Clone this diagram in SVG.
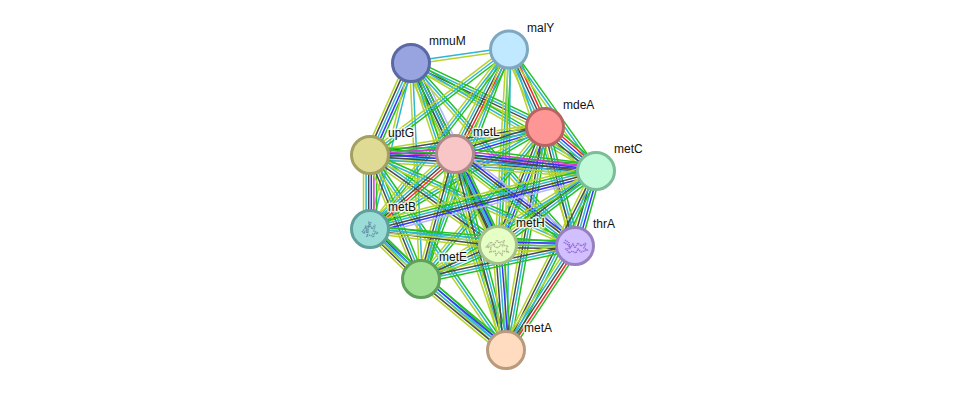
<svg xmlns="http://www.w3.org/2000/svg" width="975" height="395" viewBox="0 0 975 395">
<style>
line{stroke-width:1.5;vector-effect:non-scaling-stroke;fill:none}
.g{stroke:#24c024}.b{stroke:#3535f5}.c{stroke:#2eb6d4}.k{stroke:#4a4a4a}.l{stroke:#b6d32c}.r{stroke:#f62a2a}.v{stroke:#b4b4ff}.m{stroke:#d238d2}
.n{stroke-width:3}
text{font:12px "Liberation Sans",Arial,sans-serif;fill:#111;stroke:#fff;stroke-opacity:.8;stroke-width:3;paint-order:stroke;stroke-linejoin:round}
.p{fill:none;stroke-width:1.5;stroke-dasharray:1.2 .8;stroke-opacity:.7}
</style>
<defs>
<!-- evidence-channel bundles, unit length along x, offsets in pixels across -->
<g id="b2"><line class="c" x2="1" y1="-1.4" y2="-1.4"/><line class="l" x2="1" y1="1.4" y2="1.4"/></g>
<g id="b3"><line class="g" x2="1" y1="-2.7" y2="-2.7"/><line class="c" x2="1" y1="0" y2="0"/><line class="l" x2="1" y1="2.7" y2="2.7"/></g>
<g id="b4"><line class="g" x2="1" y1="-4" y2="-4"/><line class="c" x2="1" y1="-1.3" y2="-1.3"/><line class="k" x2="1" y1="1.3" y2="1.3"/><line class="l" x2="1" y1="4" y2="4"/></g>
<g id="b5"><line class="g" x2="1" y1="-5.3" y2="-5.3"/><line class="b" x2="1" y1="-2.7" y2="-2.7"/><line class="c" x2="1" y1="0" y2="0"/><line class="k" x2="1" y1="2.7" y2="2.7"/><line class="l" x2="1" y1="5.3" y2="5.3"/></g>
<g id="b6"><line class="g" x2="1" y1="-6.5" y2="-6.5"/><line class="r" x2="1" y1="-3.9" y2="-3.9"/><line class="b" x2="1" y1="-1.3" y2="-1.3"/><line class="c" x2="1" y1="1.3" y2="1.3"/><line class="k" x2="1" y1="3.9" y2="3.9"/><line class="l" x2="1" y1="6.5" y2="6.5"/></g>
<g id="b7"><line class="v" x2="1" y1="-6.5" y2="-6.5"/><line class="b" x2="1" y1="-3.9" y2="-3.9"/><line class="k" x2="1" y1="-1.3" y2="-1.3"/><line class="c" x2="1" y1="1.3" y2="1.3"/><line class="g" x2="1" y1="3.9" y2="3.9"/><line class="l" x2="1" y1="6.5" y2="6.5"/></g>
<g id="b8"><line class="g" x2="1" y1="-6.5" y2="-6.5"/><line class="m" x2="1" y1="-3.9" y2="-3.9"/><line class="b" x2="1" y1="-1.3" y2="-1.3"/><line class="k" x2="1" y1="1.3" y2="1.3"/><line class="c" x2="1" y1="3.9" y2="3.9"/><line class="l" x2="1" y1="6.5" y2="6.5"/></g>
<g id="r5"><line class="g" x2="1" y1="-5.3" y2="-5.3"/><line class="r" x2="1" y1="-2.7" y2="-2.7"/><line class="k" x2="1" y1="0" y2="0"/><line class="c" x2="1" y1="2.7" y2="2.7"/><line class="l" x2="1" y1="5.3" y2="5.3"/></g>
</defs>
<g id="connectors">
<use href="#b2" transform="matrix(98 -14 .141 .99 411 63)"/>
<use href="#b4" transform="matrix(134 64 -.431 .902 411 63)"/>
<use href="#b5" transform="matrix(-41 92 -.913 -.407 411 63)"/>
<use href="#b7" transform="matrix(44 91 -.9 .435 411 63)"/>
<use href="#b3" transform="matrix(185 108 -.504 .864 411 63)"/>
<use href="#b2" transform="matrix(-41 166 -.971 -.24 411 63)"/>
<use href="#b4" transform="matrix(87 182 -.902 .431 411 63)"/>
<use href="#b3" transform="matrix(164 183 -.745 .667 411 63)"/>
<use href="#b2" transform="matrix(10 216 -.999 .046 411 63)"/>
<use href="#b3" transform="matrix(95 287 -.949 .314 411 63)"/>
<use href="#r5" transform="matrix(36 78 -.908 .419 509 49)"/>
<use href="#b3" transform="matrix(-139 106 -.606 -.795 509 49)"/>
<use href="#r5" transform="matrix(-54 105 -.889 -.457 509 49)"/>
<use href="#b3" transform="matrix(87 122 -.814 .58 509 49)"/>
<use href="#b3" transform="matrix(-139 180 -.791 -.611 509 49)"/>
<use href="#b3" transform="matrix(-11 196 -.998 -.056 509 49)"/>
<use href="#b2" transform="matrix(66 197 -.948 .318 509 49)"/>
<use href="#b3" transform="matrix(-88 230 -.934 -.357 509 49)"/>
<use href="#b2" transform="matrix(-3 301 -1 -.01 509 49)"/>
<use href="#b4" transform="matrix(-175 28 -.158 -.987 545 127)"/>
<use href="#b5" transform="matrix(-90 27 -.287 -.958 545 127)"/>
<use href="#b6" transform="matrix(51 44 -.653 .757 545 127)"/>
<use href="#b3" transform="matrix(-175 102 -.503 -.864 545 127)"/>
<use href="#b5" transform="matrix(-47 118 -.929 -.37 545 127)"/>
<use href="#b4" transform="matrix(30 119 -.97 .244 545 127)"/>
<use href="#b3" transform="matrix(-124 152 -.775 -.632 545 127)"/>
<use href="#b4" transform="matrix(-39 223 -.985 -.172 545 127)"/>
<use href="#b8" transform="matrix(85 -1 .012 1 370 155)"/>
<use href="#b8" transform="matrix(226 16 -.071 .997 370 155)"/>
<use href="#b8" transform="matrix(0 74 -1 0 370 155)"/>
<use href="#b4" transform="matrix(128 90 -.575 .818 370 155)"/>
<use href="#b3" transform="matrix(205 91 -.406 .914 370 155)"/>
<use href="#b4" transform="matrix(51 124 -.925 .381 370 155)"/>
<use href="#b3" transform="matrix(136 195 -.82 .572 370 155)"/>
<use href="#b8" transform="matrix(141 17 -.12 .993 455 154)"/>
<use href="#r5" transform="matrix(-85 75 -.663 -.75 455 154)"/>
<use href="#b5" transform="matrix(43 91 -.904 .427 455 154)"/>
<use href="#b7" transform="matrix(120 92 -.609 .794 455 154)"/>
<use href="#b4" transform="matrix(-34 125 -.965 -.263 455 154)"/>
<use href="#b4" transform="matrix(51 196 -.968 .252 455 154)"/>
<use href="#b7" transform="matrix(-226 58 -.248 -.969 596 171)"/>
<use href="#b4" transform="matrix(-98 74 -.603 -.798 596 171)"/>
<use href="#b5" transform="matrix(-21 75 -.963 -.27 596 171)"/>
<use href="#b3" transform="matrix(-175 108 -.525 -.851 596 171)"/>
<use href="#b4" transform="matrix(-90 179 -.894 -.449 596 171)"/>
<use href="#b4" transform="matrix(128 16 -.124 .992 370 229)"/>
<use href="#b3" transform="matrix(205 17 -.083 .997 370 229)"/>
<use href="#b5" transform="matrix(51 50 -.7 .714 370 229)"/>
<use href="#b3" transform="matrix(136 121 -.665 .747 370 229)"/>
<use href="#b5" transform="matrix(77 1 -.013 1 498 245)"/>
<use href="#b4" transform="matrix(-77 34 -.404 -.915 498 245)"/>
<use href="#b5" transform="matrix(8 105 -.997 .076 498 245)"/>
<use href="#b4" transform="matrix(-154 33 -.21 -.978 575 246)"/>
<use href="#r5" transform="matrix(-69 104 -.833 -.553 575 246)"/>
<use href="#b5" transform="matrix(85 71 -.641 .767 421 279)"/>
</g>
<g id="node-mmuM"><circle class="n" cx="411" cy="63" r="18.5" fill="#98a4e0" stroke="#5a68a6"/><text x="429" y="45">mmuM</text></g>
<g id="node-malY"><circle class="n" cx="509" cy="49.500" r="18.5" fill="#c0e8ff" stroke="#7ea8c0"/><text x="527" y="32">malY</text></g>
<g id="node-mdeA"><circle class="n" cx="545" cy="127" r="18.5" fill="#ff9696" stroke="#b86464"/><text x="563" y="109">mdeA</text></g>
<g id="node-uptG"><circle class="n" cx="370" cy="155" r="18.5" fill="#dfdb95" stroke="#a3a060"/><text x="388" y="137">uptG</text></g>
<g id="node-metL"><circle class="n" cx="455" cy="154" r="18.5" fill="#f8c6c6" stroke="#b08a8a"/><text x="473" y="136">metL</text></g>
<g id="node-metC"><circle class="n" cx="596" cy="171" r="18.5" fill="#c0fad8" stroke="#7cbc98"/><text x="614" y="153">metC</text></g>
<g id="node-metB"><circle class="n" cx="370" cy="229" r="18.5" fill="#9adcd6" stroke="#5fa09c"/><path class="p" stroke="#4f7598" d="M362 232l4-5 2 4 1-8 3 6 3-4-1 6 4 2-5 1 1 3-4-2-3 1 1-4-5 1 4-3-2-4 4 1 2-5"/><text x="388" y="211">metB</text></g>
<g id="node-metH"><circle class="n" cx="498" cy="245" r="18.5" fill="#e6ffc4" stroke="#a6c088"/><path class="p" stroke="#98987e" d="M487 246l4-4 3 3 3-5 2 3 5-2-1 4 5 1-2 3 2 3-5-1-1 4-3-3-3 3-1-4-5 1 1-4-4-1 6-2 4 3 4-3 3 2"/><text x="516" y="227">metH</text></g>
<g id="node-thrA"><circle class="n" cx="575" cy="246" r="18.5" fill="#d2bfff" stroke="#9680c0"/><path class="p" stroke="#7a45c4" d="M565 240l4 3 1 5 3-4 2 4 3-5 3 3 5-3-2 5 3 2-6 2-3-3-2 4-4-2-3 2-3-4 5-1-4-4-4-2"/><text x="593" y="228">thrA</text></g>
<g id="node-metE"><circle class="n" cx="421" cy="279" r="18.5" fill="#9fe095" stroke="#5fa05a"/><text x="439" y="261">metE</text></g>
<g id="node-metA"><circle class="n" cx="506" cy="350" r="18.5" fill="#ffdcc0" stroke="#b89a7c"/><text x="524" y="332">metA</text></g>
</svg>
